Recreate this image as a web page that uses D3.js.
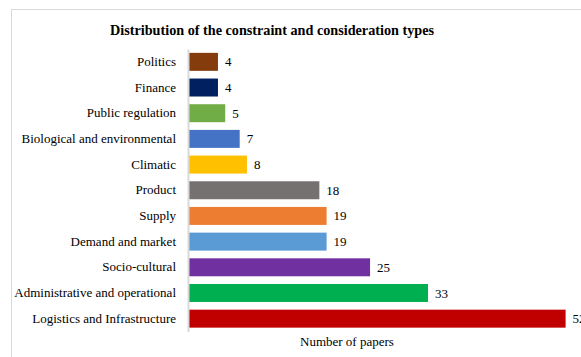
<!DOCTYPE html>
<html>
<head>
<meta charset="utf-8">
<script src="https://cdn.jsdelivr.net/npm/d3@7"></script>
<style>
  html, body { margin: 0; padding: 0; background: #fff; }
  svg { display: block; }
  text { font-family: "Liberation Serif", "Times New Roman", serif; fill: #000; }
</style>
</head>
<body>
<svg id="chart" width="581" height="357"></svg>
<script>
// Constraint / consideration categories, top to bottom
const categories = [
  "Politics",
  "Finance",
  "Public regulation",
  "Biological and environmental",
  "Climatic",
  "Product",
  "Supply",
  "Demand and market",
  "Socio-cultural",
  "Administrative and operational",
  "Logistics and Infrastructure"
];
// Number of papers per category
const values = [4, 4, 5, 7, 8, 18, 19, 19, 25, 33, 52];
// Bar fill per category
const colors = [
  "#843C0C", "#002060", "#70AD47", "#4472C4", "#FFC000", "#767171",
  "#ED7D31", "#5B9BD5", "#7030A0", "#00B050", "#C00000"
];
const titleText = "Distribution of the constraint and consideration types";
const axisTitle = "Number of papers";

const svg = d3.select("#chart");

// chart area frame
svg.append("rect")
  .attr("x", 11.5).attr("y", 9.5)
  .attr("width", 600).attr("height", 400)
  .attr("fill", "#fff")
  .attr("stroke", "#d9d9d9")
  .attr("stroke-width", 1);

svg.append("text")
  .attr("x", 272).attr("y", 35)
  .attr("text-anchor", "middle")
  .attr("font-size", "14.2px")
  .attr("font-weight", "bold")
  .text(titleText);

const x0 = 189;
const x = d3.scaleLinear().domain([0, 33]).range([x0, 428]);
const y = d3.scaleBand().domain(categories).range([49, 331.5]).paddingInner(0.3).paddingOuter(0.15);

const data = categories.map((c, i) => ({ cat: c, value: values[i], color: colors[i] }));

svg.selectAll("rect.bar")
  .data(data)
  .enter().append("rect")
  .attr("class", "bar")
  .attr("x", x(0))
  .attr("y", d => y(d.cat))
  .attr("width", d => x(d.value) - x(0))
  .attr("height", y.bandwidth())
  .attr("fill", d => d.color);

// category axis
const yAxis = d3.axisLeft(y).tickSize(0).tickPadding(12);
const gy = svg.append("g").attr("transform", `translate(${x0 - 1},0)`).call(yAxis);
gy.select(".domain").attr("stroke", "#d9d9d9").attr("stroke-width", 2);
gy.selectAll("text")
  .attr("font-family", "Liberation Serif, Times New Roman, serif")
  .attr("font-size", "13px")
  .attr("fill", "#000");

// value labels
svg.selectAll("text.val")
  .data(data)
  .enter().append("text")
  .attr("class", "val")
  .attr("x", d => x(d.value) + 7)
  .attr("y", d => y(d.cat) + y.bandwidth() / 2)
  .attr("dy", "0.35em")
  .attr("font-size", "13px")
  .text(d => d.value);

svg.append("text")
  .attr("x", 300).attr("y", 346)
  .attr("font-size", "13px")
  .text(axisTitle);
</script>
</body>
</html>
